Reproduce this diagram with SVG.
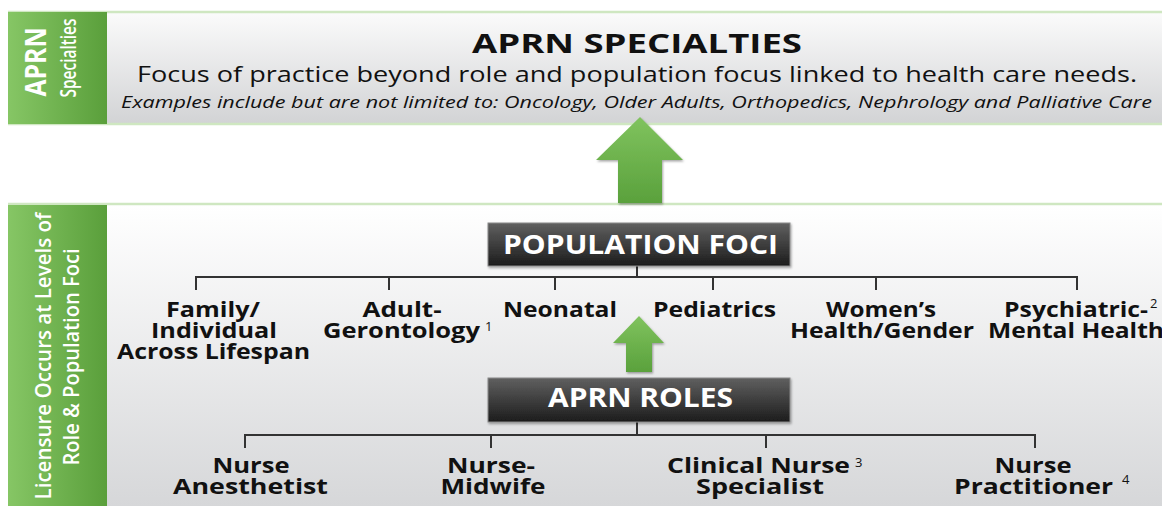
<svg xmlns="http://www.w3.org/2000/svg" width="1162" height="506" viewBox="0 0 1162 506">
<defs>
<linearGradient id="gGreen" x1="0" y1="0" x2="1" y2="0">
<stop offset="0" stop-color="#86c665"/>
<stop offset="1" stop-color="#5a9f3b"/>
</linearGradient>
<linearGradient id="gPanel" x1="0" y1="0" x2="0" y2="1">
<stop offset="0" stop-color="#fbfbfb"/>
<stop offset="1" stop-color="#d2d3d5"/>
</linearGradient>
<linearGradient id="gPanel2" x1="0" y1="0" x2="0" y2="1">
<stop offset="0" stop-color="#ffffff"/>
<stop offset="1" stop-color="#d6d7d9"/>
</linearGradient>
<linearGradient id="gDark" x1="0" y1="0" x2="0" y2="1">
<stop offset="0" stop-color="#606060"/>
<stop offset="1" stop-color="#1c1c1c"/>
</linearGradient>
<linearGradient id="gArrow" x1="0" y1="0" x2="0" y2="1">
<stop offset="0" stop-color="#80c35e"/>
<stop offset="1" stop-color="#5aa13c"/>
</linearGradient>
<filter id="sh" x="-20%" y="-20%" width="140%" height="140%">
<feDropShadow dx="1" dy="1.5" stdDeviation="1.2" flood-color="#000" flood-opacity="0.35"/>
</filter>
</defs>
<style>
.t{font-family:"Open Sans","Liberation Sans",sans-serif;fill:#111;}
.b{font-weight:bold;}
.lbl{font-family:"Open Sans","Liberation Sans",sans-serif;font-weight:bold;font-size:20.5px;fill:#111;text-anchor:middle;}
.sup{font-family:"Open Sans","Liberation Sans",sans-serif;font-size:13px;fill:#111;}
.w{font-family:"Open Sans","Liberation Sans",sans-serif;fill:#fff;text-anchor:middle;}
.ln{stroke:#333;stroke-width:2;fill:none;}
.edge{stroke:#cfe7c1;stroke-width:2.5;}
.box{fill:url(#gDark);stroke:#8a8a8a;stroke-width:1;}
</style>
<rect width="1162" height="506" fill="#fff"/>

<g id="specialties">
<rect x="8" y="12" width="1154" height="112" fill="url(#gPanel)"/>
<line class="edge" x1="8" y1="12" x2="1162" y2="12"/>
<line class="edge" x1="8" y1="124" x2="1162" y2="124"/>
<rect x="8" y="12" width="99" height="112" fill="url(#gGreen)"/>
<text class="w b" font-size="29" transform="translate(46,62) rotate(-90)" textLength="69" lengthAdjust="spacingAndGlyphs">APRN</text>
<text class="w" font-size="22" font-weight="600" transform="translate(76,58) rotate(-90)" textLength="79" lengthAdjust="spacingAndGlyphs">Specialties</text>
<text class="t b" x="637" y="53" font-size="27" text-anchor="middle" textLength="330" lengthAdjust="spacingAndGlyphs">APRN SPECIALTIES</text>
<text class="t" x="637" y="82" font-size="22.5" text-anchor="middle" fill="#222" textLength="1000" lengthAdjust="spacingAndGlyphs">Focus of practice beyond role and population focus linked to health care needs.</text>
<text class="t" x="636.5" y="108" font-size="15.5" font-style="italic" text-anchor="middle" fill="#222" textLength="1031" lengthAdjust="spacingAndGlyphs">Examples include but are not limited to: Oncology, Older Adults, Orthopedics, Nephrology and Palliative Care</text>
</g>

<g id="licensure">
<rect x="8" y="205" width="1154" height="301" fill="url(#gPanel2)"/>
<line class="edge" x1="8" y1="204" x2="1162" y2="204"/>
<rect x="8" y="205" width="99" height="301" fill="url(#gGreen)"/>
<text class="w" font-size="21.5" font-weight="600" transform="translate(51,356) rotate(-90)" textLength="287" lengthAdjust="spacingAndGlyphs">Licensure Occurs at Levels of</text>
<text class="w" font-size="21.5" font-weight="600" transform="translate(79,357) rotate(-90)" textLength="217" lengthAdjust="spacingAndGlyphs">Role &amp; Population Foci</text>
</g>

<g id="connectors">
<polygon points="640,117 683,160 662,160 662,203 618,203 618,160 596,160" fill="url(#gArrow)" filter="url(#sh)"/>
<polyline class="ln" points="637,266 637,277"/>
<line class="ln" x1="196" y1="277" x2="1078" y2="277"/>
<line class="ln" x1="196" y1="276" x2="196" y2="290"/>
<line class="ln" x1="389" y1="276" x2="389" y2="290"/>
<line class="ln" x1="555" y1="276" x2="555" y2="290"/>
<line class="ln" x1="713" y1="276" x2="713" y2="290"/>
<line class="ln" x1="876" y1="276" x2="876" y2="290"/>
<line class="ln" x1="1077" y1="276" x2="1077" y2="290"/>
<polygon points="639,316 664,343 652,343 652,372 626,372 626,343 613,343" fill="url(#gArrow)" filter="url(#sh)"/>
<polyline class="ln" points="637,422 637,435"/>
<line class="ln" x1="245" y1="435" x2="1035" y2="435"/>
<line class="ln" x1="245" y1="434" x2="245" y2="448"/>
<line class="ln" x1="491" y1="434" x2="491" y2="448"/>
<line class="ln" x1="766" y1="434" x2="766" y2="448"/>
<line class="ln" x1="1035" y1="434" x2="1035" y2="448"/>
</g>

<g id="population-foci">
<rect class="box" x="488" y="223" width="302" height="43" filter="url(#sh)"/>
<text class="w b" x="640.5" y="254" font-size="26" textLength="275" lengthAdjust="spacingAndGlyphs">POPULATION FOCI</text>
</g>

<g id="aprn-roles">
<rect class="box" x="488" y="378" width="302" height="44" filter="url(#sh)"/>
<text class="w b" x="640.5" y="407" font-size="26" textLength="185" lengthAdjust="spacingAndGlyphs">APRN ROLES</text>
</g>

<g id="family">
<text class="lbl" x="213" y="317" textLength="94" lengthAdjust="spacingAndGlyphs">Family/</text>
<text class="lbl" x="214" y="338" textLength="126" lengthAdjust="spacingAndGlyphs">Individual</text>
<text class="lbl" x="213.5" y="359" textLength="193" lengthAdjust="spacingAndGlyphs">Across Lifespan</text>
</g>
<g id="adult-gerontology">
<text class="lbl" x="402" y="317" textLength="79" lengthAdjust="spacingAndGlyphs">Adult-</text>
<text class="lbl" x="401.5" y="338" textLength="157" lengthAdjust="spacingAndGlyphs">Gerontology</text>
<text class="sup" x="485" y="331">1</text>
</g>
<g id="neonatal">
<text class="lbl" x="560" y="317" textLength="114" lengthAdjust="spacingAndGlyphs">Neonatal</text>
</g>
<g id="pediatrics">
<text class="lbl" x="714.5" y="317" textLength="123" lengthAdjust="spacingAndGlyphs">Pediatrics</text>
</g>
<g id="womens-health">
<text class="lbl" x="881" y="317" textLength="110" lengthAdjust="spacingAndGlyphs">Women’s</text>
<text class="lbl" x="882" y="338" textLength="184" lengthAdjust="spacingAndGlyphs">Health/Gender</text>
</g>
<g id="psychiatric">
<text class="lbl" x="1076" y="317" textLength="144" lengthAdjust="spacingAndGlyphs">Psychiatric-</text>
<text class="sup" x="1150" y="308">2</text>
<text class="lbl" x="1076" y="338" textLength="176" lengthAdjust="spacingAndGlyphs">Mental Health</text>
</g>

<g id="nurse-anesthetist">
<text class="lbl" x="251" y="473" textLength="77" lengthAdjust="spacingAndGlyphs">Nurse</text>
<text class="lbl" x="250.5" y="494" textLength="155" lengthAdjust="spacingAndGlyphs">Anesthetist</text>
</g>
<g id="nurse-midwife">
<text class="lbl" x="491" y="473" textLength="88" lengthAdjust="spacingAndGlyphs">Nurse-</text>
<text class="lbl" x="493" y="494" textLength="105" lengthAdjust="spacingAndGlyphs">Midwife</text>
</g>
<g id="clinical-nurse-specialist">
<text class="lbl" x="758.5" y="473" textLength="183" lengthAdjust="spacingAndGlyphs">Clinical Nurse</text>
<text class="sup" x="855" y="467">3</text>
<text class="lbl" x="760" y="494" textLength="128" lengthAdjust="spacingAndGlyphs">Specialist</text>
</g>
<g id="nurse-practitioner">
<text class="lbl" x="1033" y="473" textLength="77" lengthAdjust="spacingAndGlyphs">Nurse</text>
<text class="lbl" x="1033.5" y="494" textLength="159" lengthAdjust="spacingAndGlyphs">Practitioner</text>
<text class="sup" x="1122" y="484">4</text>
</g>
</svg>
